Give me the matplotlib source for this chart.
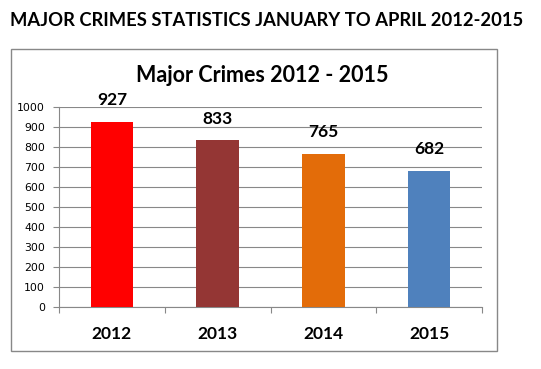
import matplotlib
matplotlib.use("Agg")
import matplotlib.pyplot as plt
from matplotlib.patches import Rectangle

years = ["2012", "2013", "2014", "2015"]
crimes = [927, 833, 765, 682]
colors = ["#FF0000", "#943634", "#E36C09", "#4F81BD"]
yticks = [0, 100, 200, 300, 400, 500, 600, 700, 800, 900, 1000]

W, H = 541, 369
fig = plt.figure(figsize=(W / 100, H / 100), dpi=100)
fig.patch.set_facecolor("white")

fig.text(10 / W, 1 - 20 / H, "MAJOR CRIMES STATISTICS JANUARY TO APRIL 2012-2015",
         family="Lato", weight="bold", fontsize=13.2, va="center", ha="left")

# outer chart frame
fig.patches.append(Rectangle((11 / W, 1 - 351 / H), (497 - 11) / W, (351 - 49) / H,
                             transform=fig.transFigure, fill=False, edgecolor="#888888", lw=1))

fig.text(262 / W, 1 - 76 / H, "Major Crimes 2012 - 2015", family="Lato", weight="bold",
         fontsize=15.5, va="center", ha="center")

ax = fig.add_axes([59 / W, 1 - 307 / H, (482 - 59) / W, (307 - 107) / H])
x = list(range(len(years)))
ax.bar(x, crimes, width=0.4, color=colors, zorder=3)
ax.set_xlim(-0.5, len(years) - 0.5)
ax.set_ylim(0, 1000)
ax.set_yticks(yticks)
ax.set_yticklabels([str(t) for t in yticks], fontsize=7.8, family="DejaVu Sans")
ax.tick_params(axis="y", length=4, color="#888888", pad=6)
ax.set_xticks([i - 0.5 for i in range(len(years) + 1)], minor=False)
ax.set_xticklabels([])
ax.tick_params(axis="x", length=4, color="#888888", direction="out")
ax.set_xticks(x, minor=True)
ax.set_xticklabels(years, minor=True, fontsize=12.5, family="Lato", weight="bold")
ax.tick_params(axis="x", which="minor", length=0, pad=14)
ax.grid(axis="y", color="#888888", lw=0.8, zorder=0)
for s in ["top", "right"]:
    ax.spines[s].set_visible(False)
ax.spines["left"].set_color("#888888")
ax.spines["bottom"].set_color("#888888")

for xi, v in zip(x, crimes):
    ax.annotate(str(v), (xi, v), xytext=(0, 10), textcoords="offset points",
                ha="center", va="bottom", fontsize=12.5, family="Lato", weight="bold")

fig.savefig("out.png", dpi=100)
